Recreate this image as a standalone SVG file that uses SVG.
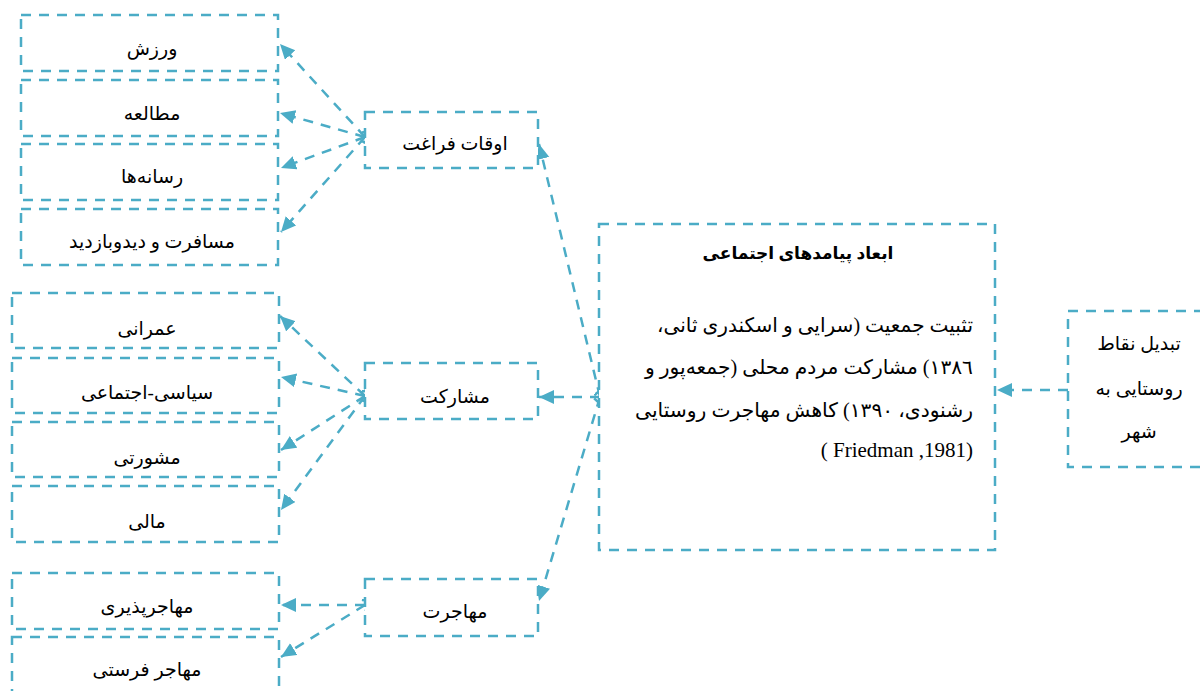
<svg xmlns="http://www.w3.org/2000/svg" width="1200" height="691" viewBox="0 0 1200 691">
<defs>
<style>
.box{fill:#fff;stroke:#4BACC6;stroke-width:2.5;stroke-dasharray:10 8}
.edge{fill:none;stroke:#4BACC6;stroke-width:2.5;stroke-dasharray:10 8;marker-end:url(#block);marker-start:url(#open)}
.edge2{fill:none;stroke:#4BACC6;stroke-width:2.5;stroke-dasharray:10 8;marker-end:url(#block)}
.t{font-family:"Liberation Serif","DejaVu Sans",sans-serif;font-size:19px;fill:#000;text-anchor:middle;direction:rtl}
.b{font-weight:bold;font-size:17px}
.r{text-anchor:start;font-size:20px}
</style>
<marker id="block" markerUnits="userSpaceOnUse" markerWidth="18" markerHeight="16" refX="15" refY="7" orient="auto"><path d="M0,0 L15,7 L0,14 Z" fill="#4BACC6"/></marker>
<marker id="open" markerUnits="userSpaceOnUse" markerWidth="14" markerHeight="14" refX="1" refY="6" orient="auto-start-reverse"><path d="M-8,0 L1,6 L-8,12" transform="translate(9,0)" fill="none" stroke="#4BACC6" stroke-width="2.5"/></marker>
</defs>
<g id="connectors">
<path class="edge" d="M365,137 L280,44"/>
<path class="edge" d="M365,137 L280,113"/>
<path class="edge" d="M365,137 L281,168"/>
<path class="edge" d="M365,137 L281,232"/>
<path class="edge" d="M365,396 L280,316"/>
<path class="edge" d="M365,396 L281,377"/>
<path class="edge" d="M365,396 L281,450"/>
<path class="edge" d="M365,396 L281,510"/>
<path class="edge" d="M365,605 L281,605"/>
<path class="edge" d="M365,605 L281,657"/>
<path class="edge" d="M600,397 L539,144"/>
<path class="edge" d="M600,397 L539,397"/>
<path class="edge" d="M600,397 L539,601"/>
<path class="edge2" d="M1068,390 L997,390"/>
</g>
<g id="n-varzesh"><rect class="box" x="21" y="15" width="257" height="56"/><text class="t" x="152" y="55">ورزش</text></g>
<g id="n-motalee"><rect class="box" x="21" y="80" width="257" height="56"/><text class="t" x="152" y="120">مطالعه</text></g>
<g id="n-resaneha"><rect class="box" x="21" y="144" width="257" height="56"/><text class="t" x="152" y="183">رسانه‌ها</text></g>
<g id="n-mosaferat"><rect class="box" x="21" y="209" width="257" height="56"/><text class="t" x="152" y="248">مسافرت و دیدوبازدید</text></g>
<g id="n-omrani"><rect class="box" x="12" y="293" width="267" height="55"/><text class="t" x="147" y="335">عمرانی</text></g>
<g id="n-siasi"><rect class="box" x="12" y="358" width="267" height="55"/><text class="t" x="147" y="399">سیاسی-اجتماعی</text></g>
<g id="n-mashverati"><rect class="box" x="12" y="422" width="267" height="55"/><text class="t" x="147" y="464">مشورتی</text></g>
<g id="n-mali"><rect class="box" x="12" y="486" width="267" height="56"/><text class="t" x="147" y="528">مالی</text></g>
<g id="n-mohajerpaziri"><rect class="box" x="12" y="573" width="267" height="56"/><text class="t" x="147" y="613">مهاجرپذیری</text></g>
<g id="n-mohajerferesti"><rect class="box" x="12" y="637" width="267" height="70"/><text class="t" x="147" y="676">مهاجر فرستی</text></g>
<g id="n-oghat"><rect class="box" x="365" y="112" width="173" height="56"/><text class="t" x="455" y="150">اوقات فراغت</text></g>
<g id="n-mosharekat"><rect class="box" x="365" y="363" width="173" height="56"/><text class="t" x="455" y="403">مشارکت</text></g>
<g id="n-mohajerat"><rect class="box" x="365" y="579" width="173" height="57"/><text class="t" x="455" y="618">مهاجرت</text></g>
<g id="n-main"><rect class="box" x="599" y="224" width="396" height="326"/>
<text class="t b" x="798" y="259">ابعاد پیامدهای اجتماعی</text>
<text class="t r" x="973" y="332" textLength="316" lengthAdjust="spacingAndGlyphs">تثبیت جمعیت (سرایی و اسکندری ثانی،</text>
<text class="t r" x="973" y="374" textLength="328" lengthAdjust="spacingAndGlyphs">١٣٨٦) مشارکت مردم محلی (جمعه‌پور و</text>
<text class="t r" x="973" y="417" textLength="338" lengthAdjust="spacingAndGlyphs">رشنودی، ١٣٩٠) کاهش مهاجرت روستایی</text>
<text class="t" style="direction:ltr;text-anchor:end;font-size:21px" x="973" y="457">( Friedman ,1981)</text>
</g>
<g id="n-tabdil"><rect class="box" x="1068" y="311" width="150" height="156"/>
<text class="t" x="1139" y="350">تبدیل نقاط</text>
<text class="t" x="1139" y="395">روستایی به</text>
<text class="t" x="1139" y="438">شهر</text>
</g>
</svg>
